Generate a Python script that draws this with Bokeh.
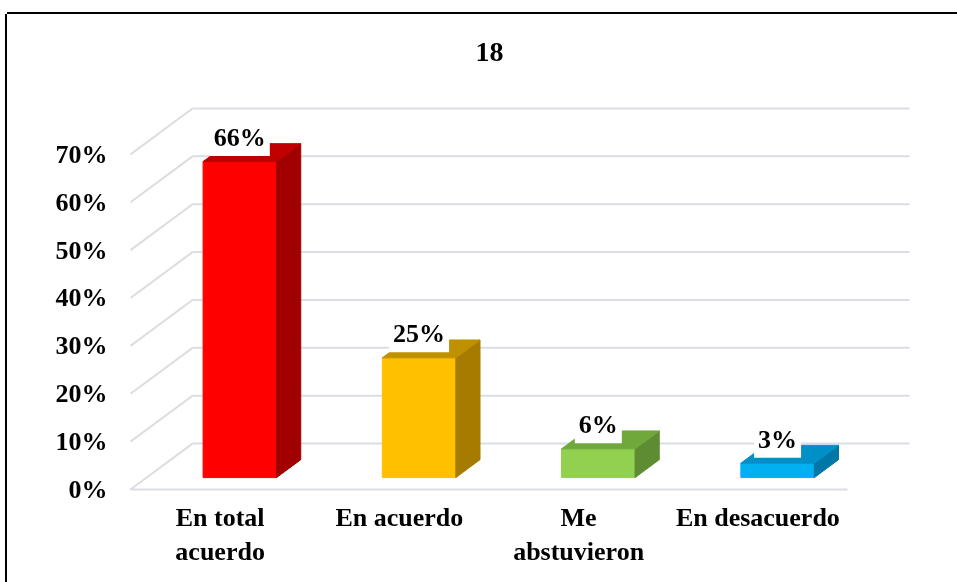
from bokeh.plotting import figure
from bokeh.models import FixedTicker, Range1d, Title
from bokeh.embed import file_html
from bokeh.resources import INLINE
from bokeh.core.properties import value

# ---- data ----
categories = ["En total\nacuerdo", "En acuerdo", "Me\nabstuvieron", "En desacuerdo"]
percent = [66, 25, 6, 3]
value_labels = ["66%", "25%", "6%", "3%"]
y_ticks = [0, 10, 20, 30, 40, 50, 60, 70]
y_tick_labels = ["0%", "10%", "20%", "30%", "40%", "50%", "60%", "70%"]
front_colors = ["#FF0000", "#FFC000", "#92D050", "#00B0F0"]
side_colors = ["#A00000", "#A67C00", "#5E8C32", "#0077A6"]
top_colors = ["#C00000", "#BF9000", "#70A83C", "#0090C8"]
title_text = "18"

# ---- 3D geometry (style) ----
PX_X = 179.25          # pixels per category unit
PX_Y = 4.8             # pixels per percent
DX = 62 / PX_X         # depth offset in x units
DY = 46 / PX_Y         # depth offset in y units
Z0, Z1 = 0.26, 0.65    # bar depth (fractions)
BAR_OFF, BAR_W = 0.52, 0.41
FONT = "Liberation Serif"
GRID = "#DADDE3"

W, H = 950, 568
p = figure(width=W, height=H, output_backend="svg", toolbar_location=None,
           x_range=Range1d(-15 / PX_X, 785 / PX_X),
           y_range=Range1d(-5 / PX_Y, 404 / PX_Y),
           min_border_left=108, min_border_right=42,
           min_border_top=0, min_border_bottom=88)
p.styles = {"position": "fixed", "left": "7px", "top": "14px",
            "box-shadow": "-2px 0px 0px 0px #000000, 0px -2px 0px 0px #000000"}
p.outline_line_color = None
p.xgrid.visible = False
p.ygrid.visible = False
p.background_fill_color = "white"
p.border_fill_color = "white"

p.title = Title(text=title_text, align="left", offset=360,
                text_font=FONT, text_font_size="28px", text_font_style="bold",
                text_color="black", standoff=52)

n = len(categories)
# back wall gridlines
p.segment(x0=[DX] * len(y_ticks), y0=[v + DY for v in y_ticks],
          x1=[n + DX] * len(y_ticks), y1=[v + DY for v in y_ticks],
          line_color=GRID, line_width=2)
# side wall diagonals
p.segment(x0=[0] * len(y_ticks), y0=y_ticks,
          x1=[DX] * len(y_ticks), y1=[v + DY for v in y_ticks],
          line_color=GRID, line_width=2)
# floor front edge
p.segment(x0=[0], y0=[0], x1=[n], y1=[0], line_color=GRID, line_width=2)

fx, fy, sx, sy, tx, ty = [], [], [], [], [], []
lx, ly = [], []
for i, v in enumerate(percent):
    c = i + BAR_OFF
    xl, xr = c - BAR_W / 2, c + BAR_W / 2
    a0x, a0y = Z0 * DX, Z0 * DY
    a1x, a1y = Z1 * DX, Z1 * DY
    fx.append([xl + a0x, xr + a0x, xr + a0x, xl + a0x])
    fy.append([a0y, a0y, v + a0y, v + a0y])
    sx.append([xr + a0x, xr + a1x, xr + a1x, xr + a0x])
    sy.append([a0y, a1y, v + a1y, v + a0y])
    tx.append([xl + a0x, xr + a0x, xr + a1x, xl + a1x])
    ty.append([v + a0y, v + a0y, v + a1y, v + a1y])
    lx.append(c + a0x)
    ly.append(v + a0y)

p.patches(xs=fx, ys=fy, fill_color=front_colors, line_color=front_colors, line_width=1)
p.patches(xs=sx, ys=sy, fill_color=side_colors, line_color=side_colors, line_width=1)
p.patches(xs=tx, ys=ty, fill_color=top_colors, line_color=top_colors, line_width=1)

p.text(x=lx, y=ly, text=value_labels, y_offset=-24,
       text_align="center", text_baseline="middle",
       text_font=value(FONT), text_font_size="26px", text_font_style="bold",
       text_color="black", background_fill_color="white", padding=4)

# axes
p.yaxis.ticker = FixedTicker(ticks=y_ticks)
p.yaxis.major_label_overrides = {t: l for t, l in zip(y_ticks, y_tick_labels)}
p.xaxis.ticker = FixedTicker(ticks=[i + 0.5 for i in range(n)])
p.xaxis.major_label_overrides = {i + 0.5: c for i, c in enumerate(categories)}
for ax in (p.xaxis, p.yaxis):
    ax.axis_line_color = None
    ax.major_tick_line_color = None
    ax.minor_tick_line_color = None
    ax.major_tick_in = 0
    ax.major_tick_out = 0
    ax.minor_tick_out = 0
    ax.major_label_text_font = FONT
    ax.major_label_text_font_size = "26px"
    ax.major_label_text_font_style = "bold"
    ax.major_label_text_color = "black"
p.yaxis.major_label_standoff = 8
p.xaxis.major_label_standoff = 8

open("out.html", "w").write(file_html(p, INLINE))
